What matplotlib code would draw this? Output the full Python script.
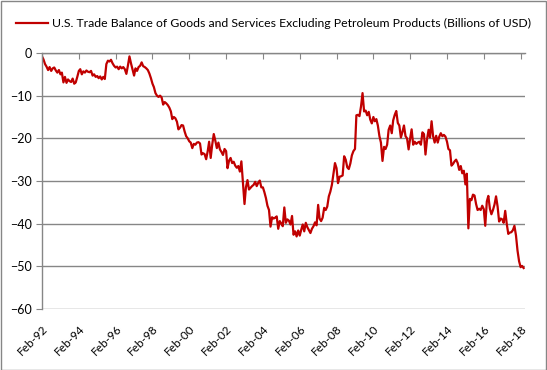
import numpy as np
import pandas as pd
import matplotlib
matplotlib.use("Agg")
import matplotlib.pyplot as plt
import matplotlib.dates as mdates
from matplotlib.patches import Rectangle

# ---- data (billions of USD, monthly, starting Feb-92) ----
start_month = "1992-02-01"
balance = [
    -0.8, -1.5, -2.6, -3.2, -4.0, -3.3, -4.2, -3.6, -3.4, -4.1, -4.6, -4.0,        # 1992
    -5.0, -4.6, -6.9, -5.6, -7.0, -6.2, -6.6, -6.8, -6.0, -7.2, -6.9, -5.6,        # 1993
    -4.2, -3.8, -5.0, -4.3, -4.6, -4.1, -4.4, -4.5, -4.2, -5.3, -5.0, -5.6,        # 1994
    -5.4, -5.9, -5.5, -6.2, -5.6, -6.1, -2.6, -1.8, -2.0, -1.6, -2.4, -3.0,        # 1995
    -3.4, -3.2, -3.8, -3.2, -3.6, -3.3, -3.8, -4.9, -3.0, -0.8, -2.4, -3.8,        # 1996
    -5.3, -3.6, -4.2, -3.3, -3.0, -2.2, -3.1, -3.3, -3.6, -4.0, -4.8, -5.9,        # 1997
    -7.2, -8.0, -9.4, -10.0, -10.3, -10.0, -10.4, -12.1, -11.5, -11.8, -12.2, -12.8,  # 1998
    -13.7, -15.5, -15.0, -15.3, -16.1, -17.9, -17.5, -16.9, -17.0, -18.4, -19.5, -20.0,  # 1999
    -20.7, -21.0, -22.3, -21.3, -21.5, -21.0, -20.9, -21.2, -23.8, -23.5, -23.7, -24.9,  # 2000
    -23.0, -20.8, -24.6, -21.5, -19.0, -20.5, -22.3, -21.0, -22.6, -23.2, -23.9, -22.5,  # 2001
    -23.0, -27.0, -25.2, -24.6, -25.8, -25.5, -26.4, -26.9, -26.5, -27.8, -25.4, -30.5,  # 2002
    -35.4, -31.5, -29.8, -32.0, -31.6, -31.2, -30.9, -30.2, -31.2, -30.4, -29.9, -31.5,  # 2003
    -31.5, -32.6, -34.0, -35.8, -36.8, -40.7, -38.5, -38.8, -38.6, -38.3, -41.2, -39.4,  # 2004
    -40.0, -40.6, -36.2, -39.8, -39.0, -39.3, -40.2, -38.2, -42.6, -41.8, -43.0, -41.6,  # 2005
    -42.8, -41.5, -40.2, -41.8, -39.8, -40.8, -41.5, -42.2, -41.2, -40.6, -39.7, -40.4,  # 2006
    -35.6, -38.8, -39.4, -38.6, -36.3, -36.8, -36.0, -33.6, -32.5, -30.9, -28.3, -25.8,  # 2007
    -27.0, -30.5, -29.0, -28.9, -28.7, -24.2, -25.0, -26.8, -27.2, -25.9, -24.0, -23.0,  # 2008
    -22.5, -14.6, -14.5, -14.8, -12.5, -9.4, -13.7, -13.5, -14.6, -13.8, -15.6, -16.5,   # 2009
    -15.0, -16.0, -15.5, -17.0, -19.5, -21.0, -25.3, -22.0, -22.5, -21.5, -18.0, -17.0,  # 2010
    -18.8, -15.8, -14.5, -13.6, -16.4, -17.0, -19.8, -18.5, -17.0, -19.5, -20.0, -22.6,  # 2011
    -20.0, -17.9, -21.5, -20.8, -21.3, -21.0, -20.8, -21.5, -18.6, -19.0, -23.8, -20.2,  # 2012
    -18.0, -19.8, -16.0, -19.5, -21.0, -19.4, -21.0, -19.6, -18.8, -19.5, -19.2, -19.6,  # 2013
    -20.8, -22.5, -22.8, -26.4, -26.0, -25.4, -25.0, -25.8, -27.4, -26.5, -28.2, -27.6,  # 2014
    -30.8, -28.3, -41.1, -34.2, -34.5, -33.2, -33.4, -35.4, -36.8, -36.5, -36.8, -35.8,  # 2015
    -36.6, -40.5, -34.8, -33.5, -36.5, -37.8, -36.8, -35.5, -33.6, -36.0, -39.5, -38.8,  # 2016
    -39.0, -39.8, -37.0, -40.0, -42.4, -42.1, -42.0, -41.5, -40.5, -42.8, -46.3, -48.8,  # 2017
    -50.2, -49.9, -50.4,                                                             # 2018
]
series_name = "U.S. Trade Balance of Goods and Services Excluding Petroleum Products (Billions of USD)"
y_ticks = [0, -10, -20, -30, -40, -50, -60]

dates = pd.date_range(start_month, periods=len(balance), freq="MS")
tick_dates = pd.date_range("1992-02-01", "2018-02-01", freq="24MS")

plt.rcParams["font.family"] = ["Lato", "DejaVu Sans"]
grey = "#868686"

fig = plt.figure(figsize=(5.47, 3.70), dpi=100)
ax = fig.add_axes([0.0768, 0.1649, 0.8832, 0.6919])

ax.plot(dates, balance, color="#C00000", lw=1.6, label=series_name)

ax.set_ylim(-60, 0)
ax.set_yticks(y_ticks)
ax.set_xlim(pd.Timestamp("1992-02-01"), pd.Timestamp("2018-05-01"))
ax.set_xticks(tick_dates)
ax.xaxis.set_major_formatter(mdates.DateFormatter("%b-%y"))

ax.yaxis.grid(True, color=grey, lw=1)
ax.set_axisbelow(True)
for side in ["right", "bottom"]:
    ax.spines[side].set_visible(False)
for side in ["left", "top"]:
    ax.spines[side].set_color(grey)
    ax.spines[side].set_linewidth(1)

ax.tick_params(axis="y", direction="out", length=4, color=grey, labelsize=9, pad=3)
ax.tick_params(axis="x", top=True, bottom=False, labeltop=False, labelbottom=True,
               direction="in", length=4, color=grey, labelsize=8.5, pad=10)
for lbl in ax.get_xticklabels():
    lbl.set_rotation(45)
    lbl.set_ha("right")
    lbl.set_rotation_mode("anchor")

ax.legend(loc="upper left", bbox_to_anchor=(0.02, 0.965), bbox_transform=fig.transFigure,
          frameon=False, fontsize=8.8, handlelength=2.6, handletextpad=0.4, borderaxespad=0)

fig.patches.append(Rectangle((0.001, 0.001), 0.997, 0.996, transform=fig.transFigure,
                             fill=False, edgecolor=grey, lw=1))

fig.savefig("out.png", dpi=100)
